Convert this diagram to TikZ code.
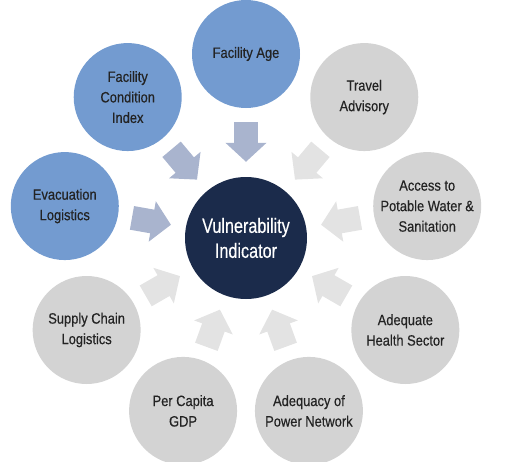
\documentclass[tikz,border=0pt]{standalone}
\usepackage{fontspec}
\setmainfont{Liberation Sans}[FakeStretch=0.86, FakeBold=0.4]
\newfontfamily\hubfont{Liberation Sans}[FakeStretch=0.79, FakeBold=0.3]
\usetikzlibrary{arrows.meta}
\definecolor{navy}{HTML}{1B2B4B}
\definecolor{steel}{HTML}{739BD0}
\definecolor{silver}{HTML}{D3D3D3}
\definecolor{steelarr}{HTML}{A9B4CE}
\definecolor{silverarr}{HTML}{E3E3E3}
\definecolor{ink}{HTML}{232323}

\begin{document}
\begin{tikzpicture}[x=1pt, y=1pt,
    hub/.style={circle, fill=navy, minimum size=122pt, inner sep=0pt,
                align=center, text=white,
                font=\hubfont\fontsize{20.5}{25}\selectfont},
    factor/.style={circle, minimum size=108pt, inner sep=0pt,
                   align=center, text=ink,
                   font=\fontsize{15}{20.5}\selectfont},
    known/.style={factor, fill=steel},
    open/.style={factor, fill=silver},
    arr/.style={-{Triangle[width=40pt, length=19pt]}, line width=24pt,
                shorten <=14pt, shorten >=15pt},
    knownarr/.style={arr, steelarr},
    openarr/.style={arr, silverarr}
  ]
    \useasboundingbox (-246,-223) rectangle (259,238);

    \node[hub] (vi) at (0, 0) {Vulnerability\\Indicator};

    \node[known] (age) at (90:184) {Facility Age};
    \node[open] (travel) at (50:184) {Travel\\Advisory};
    \node[open] (water) at (10:184) {Access to\\Potable Water \&\\Sanitation};
    \node[open] (health) at (-30:184) {Adequate\\Health Sector};
    \node[open] (power) at (-70:184) {Adequacy of\\Power Network};
    \node[open] (gdp) at (-110:184) {Per Capita\\GDP};
    \node[open] (supply) at (-150:184) {Supply Chain\\Logistics};
    \node[known] (evac) at (170:184) {Evacuation\\Logistics};
    \node[known] (fci) at (130:184) {Facility\\Condition\\Index};

    \draw[knownarr] (age) -- (vi);
    \draw[knownarr] (fci) -- (vi);
    \draw[knownarr] (evac) -- (vi);
    \draw[openarr] (travel) -- (vi);
    \draw[openarr] (water) -- (vi);
    \draw[openarr] (health) -- (vi);
    \draw[openarr] (power) -- (vi);
    \draw[openarr] (gdp) -- (vi);
    \draw[openarr] (supply) -- (vi);
  \end{tikzpicture}
\end{document}
